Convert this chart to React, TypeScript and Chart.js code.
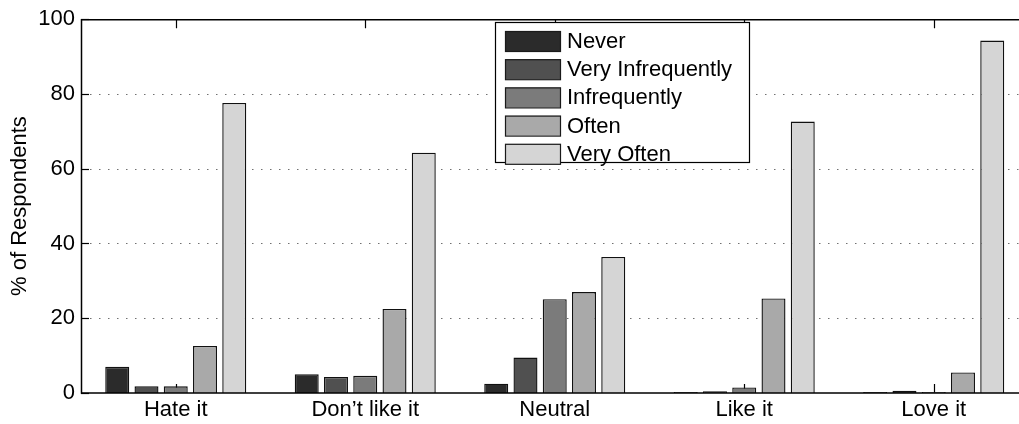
import React, { useEffect, useRef } from 'react';
import { Chart, registerables } from 'chart.js';

Chart.register(...registerables);

const categories = ['Hate it', 'Don\u2019t like it', 'Neutral', 'Like it', 'Love it'];
const seriesLabels = ['Never', 'Very Infrequently', 'Infrequently', 'Often', 'Very Often'];
const never = [7.0, 5.0, 2.5, 0.3, 0.3];
const veryInfrequently = [1.8, 4.3, 9.5, 0.5, 0.6];
const infrequently = [1.8, 4.6, 25.1, 1.5, 0.3];
const often = [12.6, 22.5, 27.0, 25.3, 5.5];
const veryOften = [77.6, 64.3, 36.4, 72.6, 94.3];
const seriesColors = ['#2b2b2b', '#505050', '#7b7b7b', '#a9a9a9', '#d5d5d5'];
const yTicks = [0, 20, 40, 60, 80, 100];
const gridValues = [20, 40, 60, 80];
const yTitle = '% of Respondents';

const FONT = '"Liberation Sans", Arial, Helvetica, sans-serif';

const framePlugin = {
  id: 'frame',
  beforeDatasetsDraw(chart: any) {
    const { ctx, chartArea: a, scales } = chart;
    const x = scales.x;
    const y = scales.y;
    ctx.save();
    ctx.strokeStyle = '#707070';
    ctx.lineWidth = 1;
    ctx.setLineDash([1.5, 7.5]);
    gridValues.forEach((v) => {
      const py = Math.round(y.getPixelForValue(v)) + 0.5;
      ctx.beginPath();
      ctx.moveTo(a.left, py);
      ctx.lineTo(a.right, py);
      ctx.stroke();
    });
    ctx.setLineDash([]);
    ctx.strokeStyle = '#000';
    ctx.lineWidth = 1.2;
    categories.forEach((_, i) => {
      const px = Math.round(x.getPixelForValue(i + 1)) + 0.5;
      ctx.beginPath();
      ctx.moveTo(px, a.bottom);
      ctx.lineTo(px, a.bottom - 9);
      ctx.moveTo(px, a.top);
      ctx.lineTo(px, a.top + 9);
      ctx.stroke();
    });
    yTicks.forEach((v) => {
      const py = Math.round(y.getPixelForValue(v)) + 0.5;
      ctx.beginPath();
      ctx.moveTo(a.left, py);
      ctx.lineTo(a.left + 8, py);
      ctx.stroke();
    });
    ctx.restore();
  },
  afterDatasetsDraw(chart: any) {
    const { ctx, chartArea: a } = chart;
    ctx.save();
    ctx.strokeStyle = '#000';
    ctx.lineWidth = 1.5;
    ctx.beginPath();
    ctx.moveTo(a.right, a.top + 0.5);
    ctx.lineTo(a.left + 0.5, a.top + 0.5);
    ctx.lineTo(a.left + 0.5, a.bottom);
    ctx.lineTo(a.right, a.bottom);
    ctx.stroke();
    ctx.restore();
  },
  afterDraw(chart: any) {
    const { ctx } = chart;
    const ds = chart.data.datasets;
    const bx = 495.5;
    const by = 22.5;
    const bw = 254;
    const bh = 140;
    ctx.save();
    ctx.fillStyle = '#fff';
    ctx.fillRect(bx, by, bw, bh);
    ctx.strokeStyle = '#000';
    ctx.lineWidth = 1.2;
    ctx.strokeRect(bx, by, bw, bh);
    ctx.font = `22px ${FONT}`;
    ctx.textBaseline = 'middle';
    ctx.textAlign = 'left';
    ds.forEach((d: any, i: number) => {
      const cy = 41 + 28.2 * i;
      ctx.fillStyle = d.backgroundColor;
      ctx.fillRect(505, cy - 10, 56, 20);
      ctx.strokeStyle = '#1a1a1a';
      ctx.lineWidth = 1.2;
      ctx.strokeRect(505.5, cy - 10 + 0.5, 55, 20);
      ctx.fillStyle = '#000';
      ctx.fillText(d.label, 567, cy + 1);
    });
    ctx.restore();
  },
};

export default function App() {
  const canvasRef = useRef<HTMLCanvasElement | null>(null);

  useEffect(() => {
    if (!canvasRef.current) return;
    const seriesValues = [never, veryInfrequently, infrequently, often, veryOften];
    const chart = new Chart(canvasRef.current, {
      type: 'bar',
      data: {
        datasets: seriesLabels.map((label, s) => ({
          label,
          data: categories.map((_, i) => ({ x: i + 1, y: seriesValues[s][i] })),
          backgroundColor: seriesColors[s],
          borderColor: '#111',
          borderWidth: 1.4,
          categoryPercentage: 0.772,
          barPercentage: 0.82,
        })),
      },
      options: {
        responsive: false,
        animation: false,
        devicePixelRatio: 1,
        layout: { padding: { top: 17, right: 0, bottom: 0, left: 0 } },
        plugins: {
          legend: { display: false },
          tooltip: { enabled: false },
        },
        scales: {
          x: {
            type: 'linear',
            min: 0.5,
            max: 5.45,
            offset: false,
            grid: { display: false, drawTicks: false },
            border: { display: false },
            afterBuildTicks: (s: any) => {
              s.ticks = categories.map((_, i) => ({ value: i + 1 }));
            },
            afterFit: (s: any) => {
              s.height = 31;
            },
            ticks: {
              autoSkip: false,
              maxRotation: 0,
              padding: 4,
              color: '#000',
              font: { family: FONT, size: 22 },
              callback: (v: any) => categories[Math.round(Number(v)) - 1] ?? '',
            },
          },
          y: {
            min: 0,
            max: 100,
            grid: { display: false, drawTicks: false },
            border: { display: false },
            afterBuildTicks: (s: any) => {
              s.ticks = yTicks.map((v) => ({ value: v }));
            },
            afterFit: (s: any) => {
              s.width = 81;
            },
            ticks: {
              padding: 6,
              color: '#000',
              font: { family: FONT, size: 22 },
            },
            title: {
              display: true,
              text: yTitle,
              color: '#000',
              font: { family: FONT, size: 22 },
              padding: { top: 7, bottom: 0 },
            },
          },
        },
      } as any,
      plugins: [framePlugin],
    });
    return () => chart.destroy();
  }, []);

  return (
    <div style={{ position: 'fixed', left: 0, top: 0, width: 1019, height: 424, background: '#fff' }}>
      <canvas ref={canvasRef} width={1019} height={424} style={{ display: 'block' }} />
    </div>
  );
}
